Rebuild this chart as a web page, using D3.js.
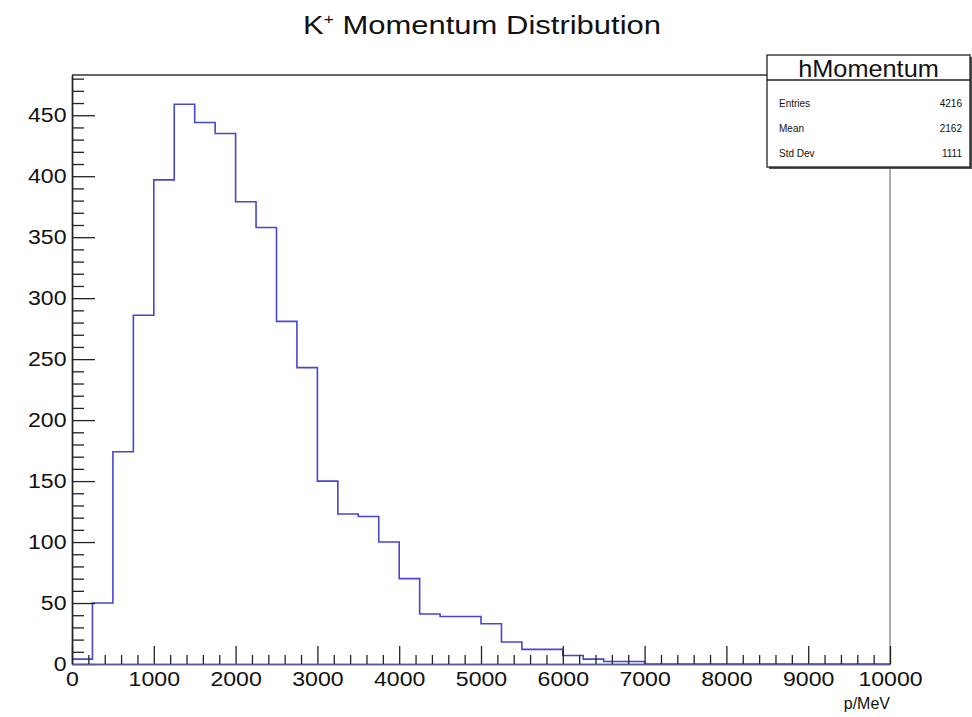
<!DOCTYPE html>
<html>
<head>
<meta charset="utf-8">
<script src="https://cdn.jsdelivr.net/npm/d3@7"></script>
<style>
  body { margin: 0; background: #fff; }
  svg text { font-family: "Liberation Sans", Arial, Helvetica, sans-serif; fill: #111; }
</style>
</head>
<body>
<svg id="chart" width="972" height="717"></svg>
<script>
// Histogram bin edges (MeV), 40 bins of 250 MeV
const binEdges = [0, 250, 500, 750, 1000, 1250, 1500, 1750, 2000, 2250, 2500, 2750, 3000,
  3250, 3500, 3750, 4000, 4250, 4500, 4750, 5000, 5250, 5500, 5750, 6000, 6250, 6500,
  6750, 7000, 7250, 7500, 7750, 8000, 8250, 8500, 8750, 9000, 9250, 9500, 9750, 10000];

// Entries per bin
const counts = [4, 50, 174, 286, 397, 459, 444, 435, 379, 358, 281, 243, 150, 123, 121, 100,
  70, 41, 39, 39, 33, 18, 12, 12, 7, 4, 2, 2, 0, 0, 0, 0, 0, 0, 0, 0, 0, 0, 0, 0];

// Axis ticks
const xMajorTicks = [0, 1000, 2000, 3000, 4000, 5000, 6000, 7000, 8000, 9000, 10000];
const yMajorTicks = [0, 50, 100, 150, 200, 250, 300, 350, 400, 450];

// Statistics box contents
const statsName = "hMomentum";
const statsLabels = ["Entries", "Mean", "Std Dev"];
const statsValues = ["4216", "2162", "1111"];

const svg = d3.select("#chart");
const frame = { left: 72, right: 890, top: 75, bottom: 664 };

const x = d3.scaleLinear().domain([0, 10000]).range([frame.left, frame.right]);
const y = d3.scaleLinear().domain([0, 483]).range([frame.bottom, frame.top]);

// minor tick positions
const xMinorTicks = d3.range(0, 10001, 200).filter(v => v % 1000 !== 0);
const yMinorTicks = d3.range(0, 483, 10).filter(v => v % 50 !== 0);

// frame (top and right)
svg.append("path")
  .attr("d", `M${frame.left},${frame.top}H${frame.right}`)
  .attr("fill", "none").attr("stroke", "#333").attr("stroke-width", 1.3);
svg.append("path")
  .attr("d", `M${frame.right},${frame.top}V${frame.bottom}`)
  .attr("fill", "none").attr("stroke", "#777").attr("stroke-width", 1.2);

// histogram outline
const pts = [];
counts.forEach((c, i) => {
  pts.push([binEdges[i], c]);
  pts.push([binEdges[i + 1], c]);
});
const line = d3.line().x(d => x(d[0])).y(d => y(d[1]));
svg.append("path")
  .datum(pts)
  .attr("d", line)
  .attr("fill", "none")
  .attr("stroke", "#4646d2")
  .attr("stroke-width", 1.6);

// y axis
const yAxisG = svg.append("g").attr("transform", `translate(${frame.left},0)`);
yAxisG.call(d3.axisLeft(y).tickValues(yMajorTicks).tickSizeInner(-23).tickSizeOuter(0)
  .tickPadding(5).tickFormat(d3.format("d")));
yAxisG.append("g").call(d3.axisLeft(y).tickValues(yMinorTicks).tickSizeInner(-12)
  .tickSizeOuter(0).tickFormat(""));
yAxisG.selectAll("path.domain").attr("stroke", "#222").attr("stroke-width", 1.4);
yAxisG.selectAll(".tick line").attr("stroke", "#222").attr("stroke-width", 1.3);
yAxisG.selectAll(".tick text").style("font-size", "21px").attr("fill", "#111")
  .attr("transform", "scale(1.1,1)");

// x axis
const xAxisG = svg.append("g").attr("transform", `translate(0,${frame.bottom})`);
xAxisG.call(d3.axisBottom(x).tickValues(xMajorTicks).tickSizeInner(-18).tickSizeOuter(0)
  .tickPadding(7).tickFormat(d3.format("d")));
xAxisG.append("g").call(d3.axisBottom(x).tickValues(xMinorTicks).tickSizeInner(-9)
  .tickSizeOuter(0).tickFormat(""));
xAxisG.selectAll("path.domain").attr("stroke", "#5a5aa0").attr("stroke-width", 1.4);
xAxisG.selectAll(".tick line").attr("stroke", "#222").attr("stroke-width", 1.3);
xAxisG.selectAll(".tick text").style("font-size", "21px").attr("fill", "#111")
  .attr("transform", "scale(1.1,1)");

// axis title
svg.append("text")
  .attr("x", frame.right).attr("y", 709)
  .attr("text-anchor", "end")
  .style("font-size", "16px")
  .text("p/MeV");

// chart title
const title = svg.append("text")
  .attr("transform", "translate(482,34) scale(1.24,1)")
  .attr("text-anchor", "middle")
  .style("font-size", "25px");
title.append("tspan").text("K");
title.append("tspan").attr("dy", -10).style("font-size", "14px").text("+");
title.append("tspan").attr("dy", 10).text(" Momentum Distribution");

// statistics box
const box = { x: 767, y: 55, w: 203, h: 112, header: 25 };
svg.append("rect")
  .attr("x", box.x + 2).attr("y", box.y + 2).attr("width", box.w).attr("height", box.h)
  .attr("fill", "#555");
svg.append("rect")
  .attr("x", box.x).attr("y", box.y).attr("width", box.w).attr("height", box.h)
  .attr("fill", "#fff").attr("stroke", "#222").attr("stroke-width", 1.3);
svg.append("line")
  .attr("x1", box.x).attr("x2", box.x + box.w)
  .attr("y1", box.y + box.header).attr("y2", box.y + box.header)
  .attr("stroke", "#222").attr("stroke-width", 1.3);
svg.append("text")
  .attr("transform", `translate(${box.x + box.w / 2},${box.y + 22}) scale(1.1,1)`)
  .attr("text-anchor", "middle")
  .style("font-size", "23px")
  .text(statsName);
const rowY = d3.scalePoint().domain(statsLabels).range([107, 157]);
svg.selectAll("text.stat-label").data(statsLabels).join("text")
  .attr("class", "stat-label")
  .attr("x", box.x + 12).attr("y", d => rowY(d))
  .style("font-size", "10px")
  .text(d => d);
svg.selectAll("text.stat-value").data(statsValues).join("text")
  .attr("class", "stat-value")
  .attr("x", box.x + box.w - 8).attr("y", (d, i) => rowY(statsLabels[i]))
  .attr("text-anchor", "end")
  .style("font-size", "10px")
  .text(d => d);
</script>
</body>
</html>
